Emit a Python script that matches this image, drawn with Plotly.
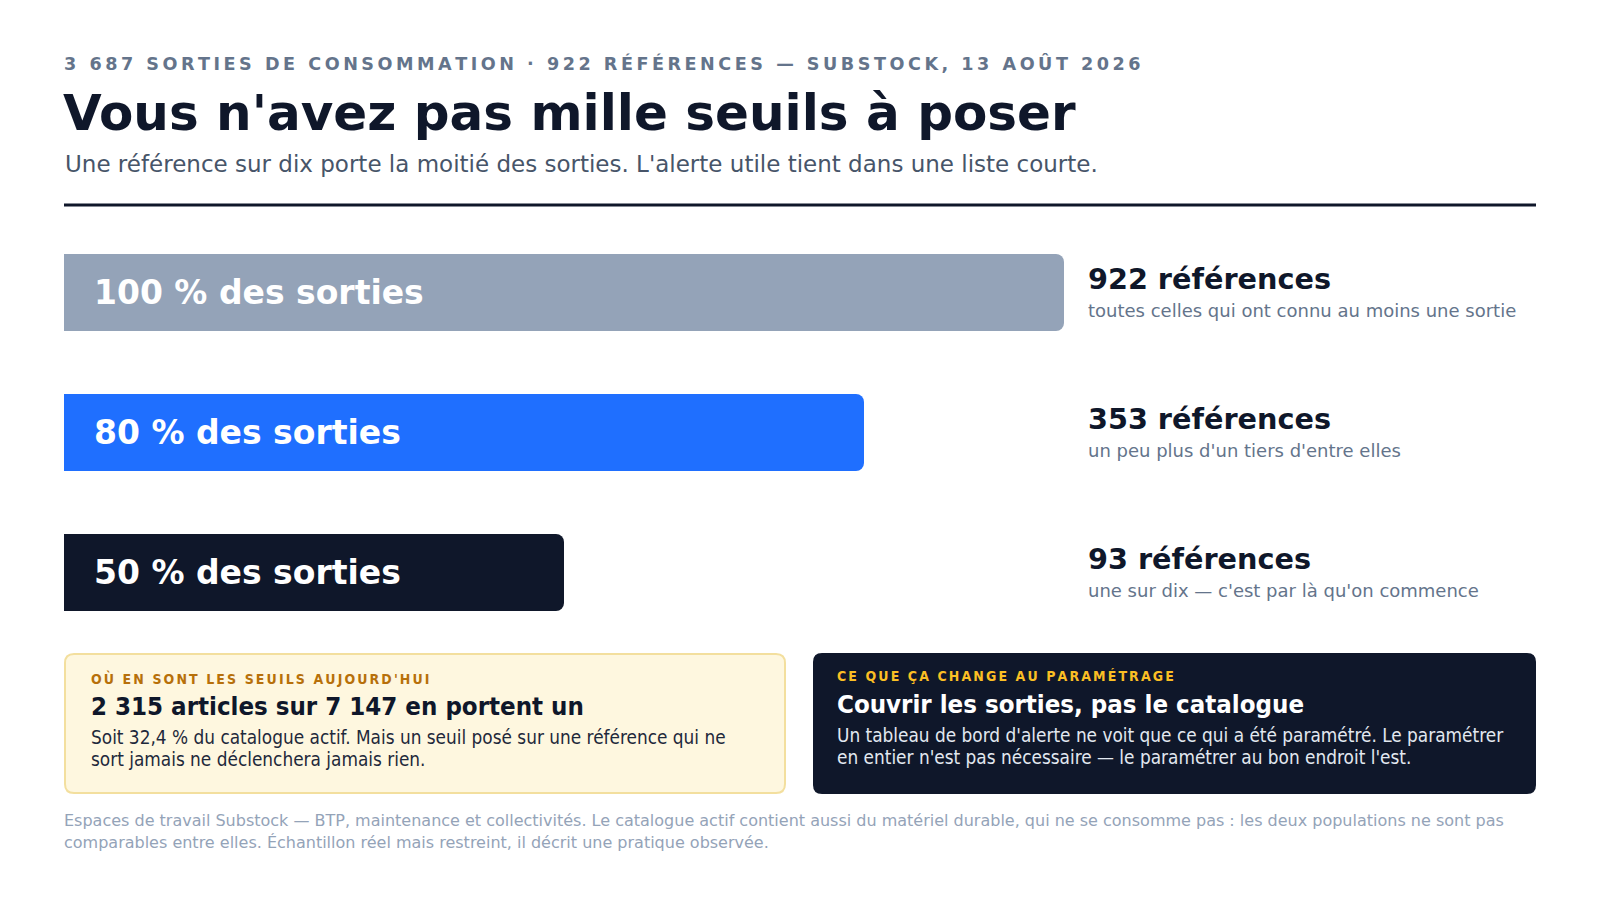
import plotly.graph_objects as go

W, H = 1600, 900

# data
kicker = "3 687 SORTIES DE CONSOMMATION · 922 RÉFÉRENCES — SUBSTOCK, 13 AOÛT 2026"
title = "Vous n'avez pas mille seuils à poser"
subtitle = "Une référence sur dix porte la moitié des sorties. L'alerte utile tient dans une liste courte."

share_labels = ["100 % des sorties", "80 % des sorties", "50 % des sorties"]
share_values = [100, 80, 50]
ref_counts = [922, 353, 93]
ref_notes = ["toutes celles qui ont connu au moins une sortie",
             "un peu plus d'un tiers d'entre elles",
             "une sur dix — c'est par là qu'on commence"]
bar_colors = ["#94a3b8", "#1f6fff", "#0f172a"]

card_kickers = ["OÙ EN SONT LES SEUILS AUJOURD'HUI", "CE QUE ÇA CHANGE AU PARAMÉTRAGE"]
card_titles = ["2 315 articles sur 7 147 en portent un", "Couvrir les sorties, pas le catalogue"]
card_bodies = [["Soit 32,4 % du catalogue actif. Mais un seuil posé sur une référence qui ne",
                "sort jamais ne déclenchera jamais rien."],
               ["Un tableau de bord d'alerte ne voit que ce qui a été paramétré. Le paramétrer",
                "en entier n'est pas nécessaire — le paramétrer au bon endroit l'est."]]

footer = ["Espaces de travail Substock — BTP, maintenance et collectivités. Le catalogue actif contient "
          "aussi du matériel durable, qui ne se consomme pas : les deux populations ne sont pas",
          "comparables entre elles. Échantillon réel mais restreint, il décrit une pratique observée."]

FONT = "DejaVu Sans"
COND = "DejaVu Sans Condensed"
NAVY = "#0f172a"

# the page adds an 8px body margin, so everything is drawn 8px up and left
OFF = 8


def px(x):
    return (x - OFF) / W


def py(y):
    return 1 - (y - OFF) / H


def tracked(s, sp="\u2009"):
    # fake letter-spacing with narrow spaces
    return sp.join(s)


def rounded_rect(x0, y0, x1, y1, r):
    X0, X1 = px(x0), px(x1)
    Y0, Y1 = py(y0), py(y1)
    rx, ry = r / W, r / H
    return (f"M {X0 + rx},{Y0} L {X1 - rx},{Y0} Q {X1},{Y0} {X1},{Y0 - ry} "
            f"L {X1},{Y1 + ry} Q {X1},{Y1} {X1 - rx},{Y1} "
            f"L {X0 + rx},{Y1} Q {X0},{Y1} {X0},{Y1 + ry} "
            f"L {X0},{Y0 - ry} Q {X0},{Y0} {X0 + rx},{Y0} Z")


fig = go.Figure()

fig.add_trace(go.Bar(
    x=share_values,
    y=share_labels,
    orientation="h",
    marker=dict(color=bar_colors, line=dict(width=0)),
    width=0.55,
    hoverinfo="skip",
))

annotations = []


def note(x, y, text, size, color, family=FONT, bold=False, anchor="left"):
    annotations.append(dict(
        xref="paper", yref="paper", x=px(x), y=py(y), text=text,
        showarrow=False, xanchor=anchor, yanchor="middle",
        font=dict(family=family, size=size, color=color, weight="bold" if bold else "normal"),
    ))


# header
note(62, 63, tracked(kicker), 17.6, "#64748b", bold=True)
note(61, 113, title, 50, NAVY, bold=True)
note(63, 164, subtitle, 23, "#475569")

# labels in the bars
for lab in share_labels:
    annotations.append(dict(
        xref="x", yref="y", x=0, y=lab, xshift=28, text=lab, showarrow=False,
        xanchor="left", yanchor="middle",
        font=dict(family=FONT, size=33, color="white", weight="bold"),
    ))

# reference counts on the right
row_y = [292.5, 432.5, 572.5]
for yc, n, txt in zip(row_y, ref_counts, ref_notes):
    note(1086, yc - 14, f"{n} références", 28.7, NAVY, bold=True)
    note(1086, yc + 18, txt, 18, "#64748b")

# cards
card_x = [(64, 786), (813, 1536)]
card_top, card_bot = 653, 794
shapes = [dict(type="line", xref="paper", yref="paper", x0=px(64), x1=px(1536),
               y0=py(205), y1=py(205), line=dict(color=NAVY, width=3))]
shapes.append(dict(type="path", xref="paper", yref="paper",
                   path=rounded_rect(card_x[0][0] + 1, card_top + 1, card_x[0][1] - 1, card_bot - 1, 9),
                   fillcolor="#fef7df", line=dict(color="#f3df9e", width=2), layer="below"))
shapes.append(dict(type="path", xref="paper", yref="paper",
                   path=rounded_rect(card_x[1][0], card_top, card_x[1][1], card_bot, 9),
                   fillcolor=NAVY, line=dict(width=0), layer="below"))

card_styles = [("#b7700a", NAVY, "#1e293b"), ("#fbbf24", "#ffffff", "#e2e8f0")]
card_dy = [0, -2]
card_pad = [25, 22]
for i, (x0, x1) in enumerate(card_x):
    kc, tc, bc = card_styles[i]
    dy = card_dy[i]
    tx = x0 + card_pad[i]
    note(tx, 678 + dy, tracked(card_kickers[i], "\u2006"), 14, kc, family=COND, bold=True)
    note(tx, 706 + dy, card_titles[i], 25.6, tc, family=COND, bold=True)
    note(tx, 737 + dy, card_bodies[i][0], 18.85, bc, family=COND)
    note(tx, 759 + dy, card_bodies[i][1], 18.85, bc, family=COND)

# footer
note(62, 820, footer[0], 16, "#94a3b8")
note(62, 842, footer[1], 16, "#94a3b8")

fig.update_layout(
    width=W, height=H,
    margin=dict(l=0, r=0, t=0, b=0),
    paper_bgcolor="white", plot_bgcolor="white",
    showlegend=False,
    barcornerradius=8,
    xaxis=dict(domain=[px(64), px(1064)], range=[0, 100], visible=False, fixedrange=True),
    yaxis=dict(domain=[py(642.5), py(222.5)], range=[2.5, -0.5], visible=False, fixedrange=True),
    shapes=shapes,
    annotations=annotations,
)

fig.write_html("out.html")
